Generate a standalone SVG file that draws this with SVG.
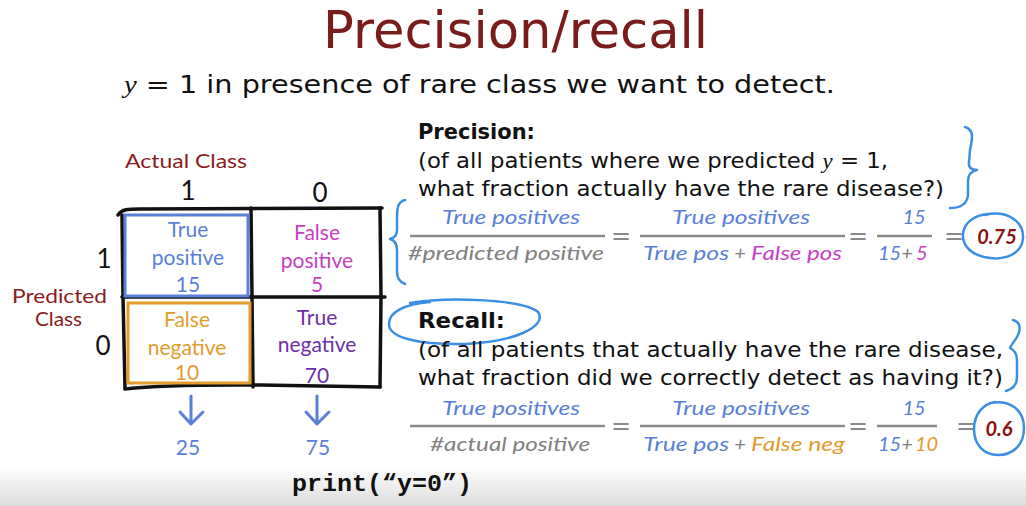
<svg xmlns="http://www.w3.org/2000/svg" width="1026" height="506" viewBox="0 0 1026 506">
<defs>
<linearGradient id="floor" x1="0" y1="0" x2="0" y2="1">
<stop offset="0" stop-color="#ffffff"/>
<stop offset="1" stop-color="#dcdcdc"/>
</linearGradient>
<style>
.title{font-family:"DejaVu Sans","Liberation Sans",sans-serif;font-size:52px;fill:#7b1c1c}
.body{font-family:"DejaVu Sans","Liberation Sans",sans-serif;font-size:21px;fill:#111}
.bold{font-weight:bold}
.math{font-family:"Liberation Serif",serif;font-style:italic}
.hand{font-family:Lato,"Open Sans",sans-serif;font-style:italic;font-size:20px}
.cell{font-family:Lato,"Open Sans",sans-serif;font-size:21px;text-anchor:middle}
.lbl{font-family:Lato,"Open Sans",sans-serif;font-size:19px;fill:#8a1c1c}
.dig{font-family:Lato,"Open Sans",sans-serif;font-size:26px;fill:#111;text-anchor:middle}
.blue{fill:#5a7fd8}
.mag{fill:#c63fc3}
.ora{fill:#e39b2d}
.pur{fill:#6b2fa8}
.gray{fill:#808080}
.red{fill:#8b1212}
.mid{text-anchor:middle}
.grid{fill:none;stroke:#111;stroke-width:3.5;stroke-linecap:round;stroke-linejoin:round}
.fline{stroke:#8a8a8a;stroke-width:2.5}
.eq{font-family:"DejaVu Sans",sans-serif;font-size:24px;fill:#8a8a8a;text-anchor:middle}
.pen{fill:none;stroke:#3b8fe3;stroke-width:2.5;stroke-linecap:round;stroke-linejoin:round}
.arrow{fill:none;stroke:#5a7fd8;stroke-width:3;stroke-linecap:round;stroke-linejoin:round}
.ans{font-family:Lato,"Open Sans",sans-serif;font-style:italic;font-weight:bold;font-size:20px;text-anchor:middle}
.code{font-family:"Liberation Mono",monospace;font-weight:bold;font-size:23px;fill:#111}
</style>
</defs>
<rect x="0" y="0" width="1026" height="506" fill="#ffffff"/>
<rect x="0" y="466" width="1026" height="40" fill="url(#floor)"/>

<g id="title">
<text class="title" x="323" y="48" textLength="385" lengthAdjust="spacingAndGlyphs">Precision/recall</text>
</g>
<g id="subtitle">
<text class="body" x="124" y="93" style="font-size:25px" textLength="711" lengthAdjust="spacingAndGlyphs"><tspan class="math">y</tspan> = 1 in presence of rare class we want to detect.</text>
</g>

<g id="matrix">
<path class="grid" d="M118,215 C122,209 128,209 140,209 L382,208"/>
<path class="grid" d="M122,215 L123,297 L125,388"/>
<path class="grid" d="M380,208 L381,297 L380,387"/>
<path class="grid" d="M251,208 L252,297 L253,387"/>
<path class="grid" d="M122,297 L385,297"/>
<path class="grid" d="M125,389 C170,384 220,385 260,385 L380,387"/>
<text class="lbl" x="125" y="168" textLength="122" lengthAdjust="spacingAndGlyphs">Actual Class</text>
<text class="dig" x="188" y="200">1</text>
<text class="dig" x="320" y="202">0</text>
<text class="dig" x="104" y="268">1</text>
<text class="dig" x="103" y="355">0</text>
<text class="lbl" x="12" y="303" textLength="95" lengthAdjust="spacingAndGlyphs">Predicted</text>
<text class="lbl" x="35" y="326" textLength="47" lengthAdjust="spacingAndGlyphs">Class</text>
</g>

<g id="cell-tp">
<rect x="125" y="215" width="123" height="81" fill="none" stroke="#5a7fd8" stroke-width="3"/>
<text class="cell blue" x="188" y="237">True</text>
<text class="cell blue" x="188" y="265">positive</text>
<text class="cell blue" x="188" y="292">15</text>
</g>
<g id="cell-fp">
<text class="cell mag" x="317" y="240">False</text>
<text class="cell mag" x="317" y="268">positive</text>
<text class="cell mag" x="317" y="292">5</text>
</g>
<g id="cell-fn">
<rect x="128" y="303" width="122" height="80" fill="none" stroke="#e39b2d" stroke-width="3"/>
<text class="cell ora" x="187" y="327">False</text>
<text class="cell ora" x="187" y="355">negative</text>
<text class="cell ora" x="187" y="380">10</text>
</g>
<g id="cell-tn">
<text class="cell pur" x="317" y="325">True</text>
<text class="cell pur" x="317" y="352">negative</text>
<text class="cell pur" x="317" y="383">70</text>
</g>

<g id="connectors">
<path class="arrow" d="M191,396 L191,424 M180,412 L191,424 L203,412"/>
<path class="arrow" d="M317,396 L317,424 M306,412 L317,424 L329,412"/>
</g>

<g id="col-sums">
<text class="cell blue" x="188" y="455">25</text>
<text class="cell blue" x="318" y="455">75</text>
</g>

<g id="code">
<text class="code" x="292" y="491" textLength="180" lengthAdjust="spacingAndGlyphs">print(“y=0”)</text>
</g>

<g id="precision">
<text class="body bold" x="418" y="139" textLength="117" lengthAdjust="spacingAndGlyphs">Precision:</text>
<text class="body" x="418" y="168" textLength="470" lengthAdjust="spacingAndGlyphs">(of all patients where we predicted <tspan class="math">y</tspan> = 1,</text>
<text class="body" x="418" y="196" textLength="526" lengthAdjust="spacingAndGlyphs">what fraction actually have the rare disease?)</text>
<path class="pen" d="M965,127 C975,130 972,140 970,150 L969,162 C968,168 972,170 977,170 C971,171 968,175 968,182 L968,195 C967,205 960,208 950,208"/>
<path class="pen" d="M405,200 C397,202 397,210 397,218 L397,230 C397,236 394,238 390,239 C394,240 397,243 397,250 L397,272 C397,279 400,282 405,284"/>
<text class="hand blue mid" x="511" y="224" textLength="138" lengthAdjust="spacingAndGlyphs">True positives</text>
<line class="fline" x1="410" y1="236" x2="605" y2="236"/>
<text class="hand gray mid" x="506" y="260" textLength="196" lengthAdjust="spacingAndGlyphs">#predicted positive</text>
<text class="eq" x="621" y="244">=</text>
<text class="hand blue mid" x="741" y="224" textLength="138" lengthAdjust="spacingAndGlyphs">True positives</text>
<line class="fline" x1="640" y1="236" x2="845" y2="236"/>
<text class="hand blue" x="643" y="260" textLength="86" lengthAdjust="spacingAndGlyphs">True pos</text>
<text class="hand gray mid" x="740" y="260">+</text>
<text class="hand mag" x="751" y="260" textLength="91" lengthAdjust="spacingAndGlyphs">False pos</text>
<text class="eq" x="858" y="244">=</text>
<text class="hand blue mid" x="914" y="224">15</text>
<line class="fline" x1="877" y1="236" x2="932" y2="236"/>
<text class="hand blue" x="878" y="260">15</text>
<text class="hand gray mid" x="907" y="260">+</text>
<text class="hand mag" x="916" y="260">5</text>
<text class="eq" x="954" y="244">=</text>
<path class="pen" d="M985,215 C1005,210 1024,220 1023,238 C1022,254 1005,260 990,258 C972,256 962,246 963,234 C964,222 975,215 988,214"/>
<text class="ans red" x="997" y="244">0.75</text>
</g>

<g id="recall">
<path class="pen" d="M410,303 C450,296 525,300 538,312 C548,326 515,342 465,344 C420,345 390,338 389,325 C388,312 405,304 430,302"/>
<text class="body bold" x="418" y="328" textLength="87" lengthAdjust="spacingAndGlyphs">Recall:</text>
<text class="body" x="418" y="357" textLength="585" lengthAdjust="spacingAndGlyphs">(of all patients that actually have the rare disease,</text>
<text class="body" x="418" y="385" textLength="585" lengthAdjust="spacingAndGlyphs">what fraction did we correctly detect as having it?)</text>
<path class="pen" d="M1013,320 C1021,322 1021,330 1017,337 C1014,342 1011,345 1010,348 C1014,350 1017,354 1017,360 L1017,377 C1017,385 1013,389 1006,391"/>
<text class="hand blue mid" x="511" y="415" textLength="138" lengthAdjust="spacingAndGlyphs">True positives</text>
<line class="fline" x1="410" y1="426" x2="605" y2="426"/>
<text class="hand gray mid" x="510" y="451" textLength="160" lengthAdjust="spacingAndGlyphs">#actual positive</text>
<text class="eq" x="621" y="434">=</text>
<text class="hand blue mid" x="741" y="415" textLength="138" lengthAdjust="spacingAndGlyphs">True positives</text>
<line class="fline" x1="640" y1="426" x2="845" y2="426"/>
<text class="hand blue" x="643" y="451" textLength="86" lengthAdjust="spacingAndGlyphs">True pos</text>
<text class="hand gray mid" x="740" y="451">+</text>
<text class="hand ora" x="751" y="451" textLength="94" lengthAdjust="spacingAndGlyphs">False neg</text>
<text class="eq" x="858" y="434">=</text>
<text class="hand blue mid" x="914" y="415">15</text>
<line class="fline" x1="877" y1="426" x2="937" y2="426"/>
<text class="hand blue" x="878" y="451">15</text>
<text class="hand gray mid" x="907" y="451">+</text>
<text class="hand ora" x="915" y="451">10</text>
<text class="eq" x="966" y="434">=</text>
<path class="pen" d="M990,403 C1010,399 1024,410 1024,428 C1024,446 1012,455 998,455 C983,455 974,444 974,429 C974,414 983,404 995,402"/>
<text class="ans red" x="999" y="436">0.6</text>
</g>
</svg>
